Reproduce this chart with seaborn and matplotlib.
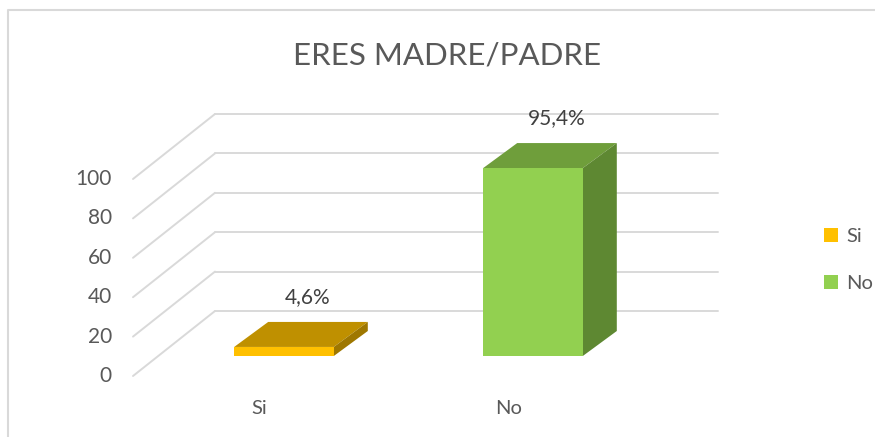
import matplotlib
matplotlib.use("Agg")
import matplotlib.pyplot as plt
import seaborn as sns
from matplotlib.patches import Polygon

# ---- data ----
categories = ["Si", "No"]
values = [4.6, 95.4]
value_labels = ["4,6%", "95,4%"]
tick_values = [0, 20, 40, 60, 80, 100]
title = "ERES MADRE/PADRE"

front_colors = ["#FFC000", "#92D050"]
top_colors = ["#BF9000", "#6F9E3B"]
side_colors = ["#9E7700", "#5E8832"]

sns.set_theme(style="white")
plt.rcParams["font.family"] = ["Lato", "DejaVu Sans"]

W, H = 875, 437
fig = plt.figure(figsize=(W / 100, H / 100), dpi=100)
ax = fig.add_axes([0, 0, 1, 1])

sns.barplot(x=categories, y=values, hue=categories, palette=front_colors,
            width=0.4, saturation=1, legend=False, ax=ax, zorder=3, linewidth=0,
            edgecolor="none")

# pixel geometry of the pseudo-3D frame
px_per_cat = 249.0
px_per_unit = 1.97
x0_px, y0_px = 284.0, 356.0
ax.set_xlim(-x0_px / px_per_cat, (W - x0_px) / px_per_cat)
ax.set_ylim(-(H - y0_px) / px_per_unit, y0_px / px_per_unit)
ax.axis("off")

front_floor = -10.15
wall_dx, wall_dy = 82 / px_per_cat, 65 / px_per_unit
front_x = (133 - x0_px) / px_per_cat
wall_x0 = front_x + wall_dx
wall_x1 = (718 - x0_px) / px_per_cat
grid_c = "#D9D9D9"
for g in tick_values:
    yb = g + front_floor + wall_dy
    ax.plot([front_x, wall_x0], [g + front_floor, yb], color=grid_c, lw=1.4, zorder=1)
    ax.plot([wall_x0, wall_x1], [yb, yb], color=grid_c, lw=1.4, zorder=1)
    ax.text((112 - x0_px) / px_per_cat, g + front_floor, str(g), ha="right",
            va="center", fontsize=15, color="#595959")

# depth faces of the bars
bars = list(ax.patches)
ddx, ddy = 34 / px_per_cat, 25 / px_per_unit
for bar, tc, sc, lab, cat in zip(bars, top_colors, side_colors, value_labels, categories):
    bx, bw, bh = bar.get_x(), bar.get_width(), bar.get_height()
    top = Polygon([(bx, bh), (bx + bw, bh), (bx + bw + ddx, bh + ddy), (bx + ddx, bh + ddy)],
                  closed=True, facecolor=tc, edgecolor="none", zorder=2)
    side = Polygon([(bx + bw, 0), (bx + bw + ddx, ddy), (bx + bw + ddx, bh + ddy), (bx + bw, bh)],
                   closed=True, facecolor=sc, edgecolor="none", zorder=2)
    ax.add_patch(top)
    ax.add_patch(side)
    ax.text(bx + bw / 2 + ddx * 0.7, bh + ddy + 7.5, lab, ha="center", va="bottom",
            fontsize=15, color="#404040")
    ax.text(bx + bw / 2 - 0.1, (y0_px - 408) / px_per_unit, cat, ha="center",
            va="center", fontsize=14.5, color="#595959")

ax.legend(handles=bars, labels=categories, loc="center left",
          bbox_to_anchor=(806 / W, 1 - 260 / H), frameon=False,
          handlelength=0.7, handleheight=0.7, handletextpad=0.4,
          labelspacing=1.45, fontsize=14.5, labelcolor="#595959")

# chart border (top and left)
ax.plot([7.5 / W, 7.5 / W, 1], [0, 1 - 9.5 / H, 1 - 9.5 / H], transform=ax.transAxes,
        color="#D9D9D9", lw=1.5, clip_on=False)

fig.text(447 / W, 1 - 55 / H, title, ha="center", va="center", fontsize=22.5,
         color="#595959")

fig.savefig("out.png", dpi=100)
